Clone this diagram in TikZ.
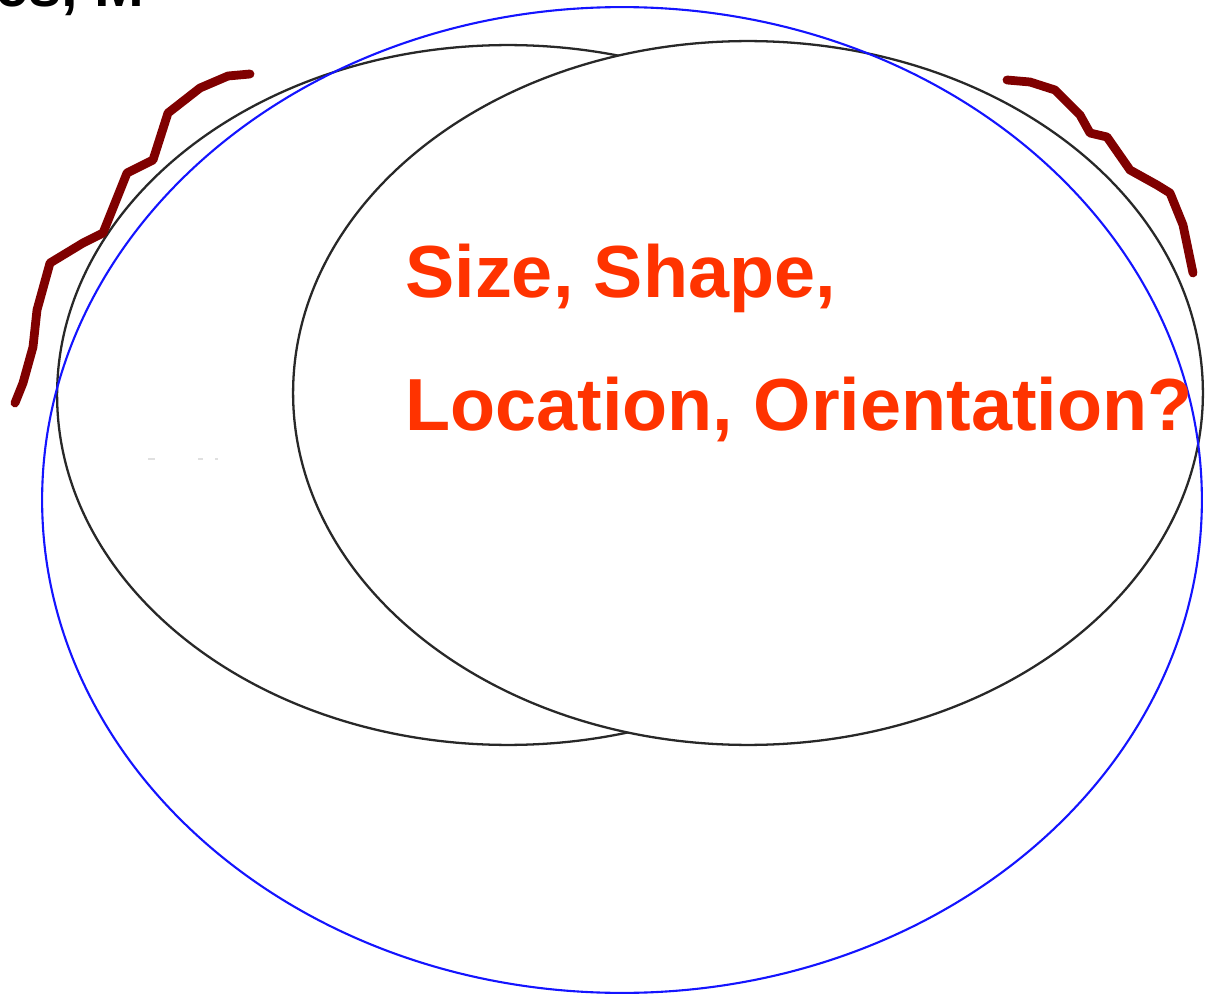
\documentclass[tikz,border=0pt]{standalone}
\usepackage{fontspec}
\setmainfont{Liberation Sans}
\definecolor{labelred}{RGB}{255,51,0}
\definecolor{wavered}{RGB}{128,0,0}
\definecolor{ringblue}{RGB}{20,20,255}
\definecolor{ringgray}{RGB}{40,40,40}
\tikzset{
  ringblack/.style={draw=ringgray, line width=1.3pt},
  ringb/.style={draw=ringblue, line width=1.2pt},
  wave/.style={draw=wavered, line width=5pt, line join=round, line cap=round},
  qlabel/.style={text=labelred, font=\fontsize{42pt}{42pt}\selectfont\bfseries, inner sep=0pt, anchor=base west},
  speck/.style={draw=black!12, line width=1pt}
}
\begin{document}
\begin{tikzpicture}[x=0.02cm, y=-0.02cm]
\useasboundingbox (0,0) rectangle (1205,997);
\begin{scope}
\clip (0,0) rectangle (1205,997);
% cut-off heading text at top
\node[anchor=base west, inner sep=0pt, font=\fontsize{34pt}{34pt}\selectfont\bfseries] (head) at (-5,7) {es, M};
% left black ellipse
\draw[ringblack] (508,395) ellipse [x radius=9.02cm, y radius=7.0cm];
% right black ellipse, covering the left one
\draw[ringblack, fill=white] (748,393) ellipse [x radius=9.1cm, y radius=7.04cm];
% blue ellipse
\draw[ringb] (622,500) ellipse [x radius=11.6cm, y radius=9.86cm];
% wavy curves
\draw[wave] (250,74) -- (228,76) -- (200,88) -- (168,113) -- (153,160) -- (127,173) -- (103,233) -- (83,243) -- (50,263) -- (37,310) -- (33,347) -- (23,383) -- (15,403);
\draw[wave] (1007,80) -- (1030,82) -- (1055,90) -- (1080,115) -- (1090,133) -- (1107,137) -- (1130,170) -- (1157,185) -- (1170,193) -- (1183,225) -- (1193,273);
% specks
\draw[speck] (148,459) -- (155,459);
\draw[speck] (198,459) -- (203,459);
\draw[speck] (215,459) -- (218,459);
\end{scope}
\node[qlabel] (l1) at (405,297) {Size, Shape,};
\node[qlabel] (l2) at (405,430) {Location, Orientation?};
\end{tikzpicture}
\end{document}
